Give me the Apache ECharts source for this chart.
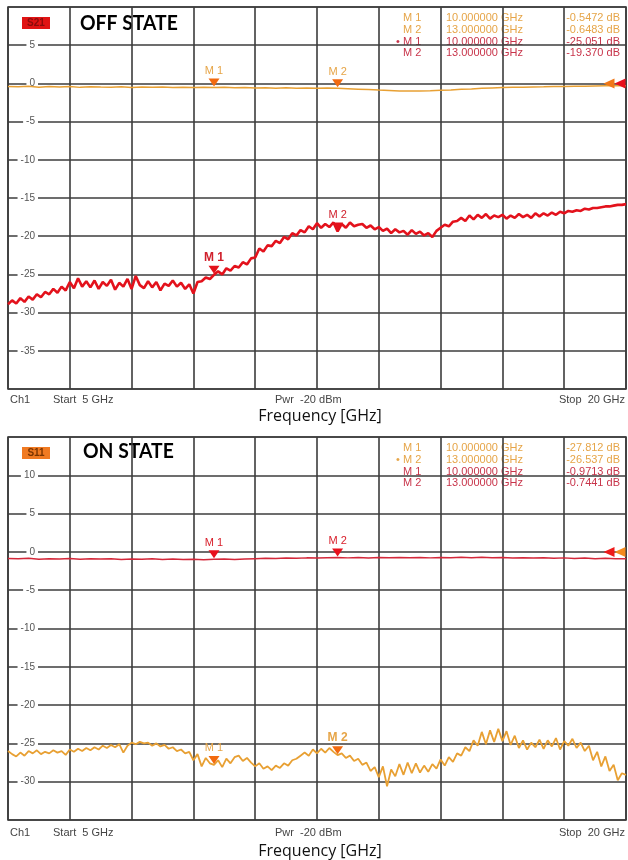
<!DOCTYPE html>
<html>
<head>
<meta charset="utf-8">
<script src="https://cdn.jsdelivr.net/npm/echarts@6/dist/echarts.min.js"></script>
<style>
  html, body { margin: 0; padding: 0; background: #fff; }
  #chart { width: 628px; height: 860px; }
</style>
</head>
<body>
<div id="chart"></div>
<script>
// Sweep definition (GHz)
const sweepStartGHz = 5;
const sweepStopGHz = 20;

// OFF state, S21 trace (151 points, 0.1 GHz step)
const offS21 = [
  -28.9,-28.4,-28.8,-28.1,-28.6,-27.9,-28.3,-27.6,-28.0,-27.3,
  -27.6,-26.9,-27.4,-26.6,-27.1,-26.0,-26.8,-25.5,-26.6,-25.9,
  -26.7,-25.8,-26.9,-26.0,-26.5,-25.7,-27.0,-26.1,-26.6,-25.6,
  -26.9,-25.2,-26.4,-26.8,-25.9,-26.7,-26.0,-27.1,-26.2,-26.5,
  -25.8,-26.6,-26.1,-26.9,-26.3,-27.5,-26.0,-25.9,-25.4,-25.6,
  -25.051,-24.6,-25.0,-24.2,-24.5,-23.9,-24.1,-23.4,-23.7,-22.9,
  -22.8,-21.6,-22.0,-21.2,-21.3,-20.6,-20.9,-20.1,-20.4,-19.6,
  -19.9,-19.2,-19.5,-18.7,-19.1,-18.3,-18.9,-18.4,-18.8,-18.2,
  -19.370,-18.4,-18.9,-18.2,-18.7,-18.5,-18.4,-18.9,-18.6,-19.1,
  -18.8,-19.3,-19.0,-19.6,-19.1,-19.5,-19.3,-19.8,-19.2,-19.7,
  -19.4,-19.9,-19.6,-20.1,-19.3,-18.9,-18.5,-18.7,-18.1,-18.0,
  -17.6,-18.0,-17.3,-17.8,-17.2,-17.6,-17.1,-17.7,-17.3,-17.5,
  -17.2,-17.7,-17.3,-17.6,-17.1,-17.5,-17.2,-17.6,-17.0,-17.4,
  -17.0,-17.3,-16.9,-17.2,-16.8,-17.0,-16.7,-16.8,-16.6,-16.7,
  -16.4,-16.5,-16.3,-16.3,-16.2,-16.1,-16.1,-16.0,-15.9,-15.9,
  -15.8
];

// OFF state, S11 trace (61 points, 0.25 GHz step)
const offS11 = [
  -0.40,-0.45,-0.38,-0.50,-0.42,-0.47,-0.40,-0.52,-0.45,-0.48,
  -0.50,-0.44,-0.55,-0.48,-0.52,-0.46,-0.55,-0.50,-0.53,-0.49,
  -0.5472,-0.52,-0.58,-0.55,-0.60,-0.56,-0.62,-0.58,-0.63,-0.60,
  -0.65,-0.61,-0.6483,-0.70,-0.75,-0.80,-0.88,-0.92,-0.98,-1.00,
  -0.98,-0.95,-0.90,-0.85,-0.78,-0.72,-0.65,-0.60,-0.55,-0.52,
  -0.50,-0.47,-0.45,-0.42,-0.40,-0.38,-0.36,-0.34,-0.32,-0.30,
  -0.30
];

// ON state, S11 trace (151 points, 0.1 GHz step)
const onS11 = [
  -26.0,-26.4,-26.7,-26.2,-26.6,-26.0,-26.3,-25.9,-26.4,-26.1,
  -26.3,-25.9,-26.2,-26.0,-26.5,-25.8,-26.1,-25.7,-26.0,-25.6,
  -25.9,-25.5,-25.8,-25.3,-25.6,-25.2,-25.5,-25.1,-26.2,-25.3,
  -24.9,-25.1,-24.8,-25.0,-24.9,-25.3,-25.0,-25.4,-25.2,-25.7,
  -25.5,-26.0,-25.8,-26.3,-26.1,-27.2,-26.4,-28.0,-26.9,-27.6,
  -27.812,-27.2,-28.1,-27.0,-27.6,-26.8,-26.6,-27.3,-26.9,-27.5,
  -28.0,-27.6,-28.3,-28.0,-28.5,-27.9,-28.2,-27.6,-27.9,-27.2,
  -27.0,-26.6,-26.2,-26.6,-25.8,-26.3,-25.7,-26.2,-25.6,-26.1,
  -26.537,-26.3,-26.9,-26.6,-27.3,-27.0,-27.8,-27.5,-28.6,-28.1,
  -29.4,-28.0,-30.6,-28.4,-29.3,-27.7,-29.1,-27.5,-28.9,-27.6,
  -28.8,-27.9,-28.7,-27.7,-28.3,-27.1,-27.9,-26.8,-27.4,-26.3,
  -26.6,-25.5,-26.0,-24.6,-25.3,-23.5,-25.1,-23.3,-24.8,-23.1,
  -24.7,-23.4,-25.2,-24.0,-25.6,-24.6,-25.8,-24.9,-25.5,-24.5,
  -25.7,-24.6,-25.4,-24.3,-25.8,-24.7,-25.3,-24.4,-25.6,-24.9,
  -26.0,-25.3,-27.2,-26.1,-28.0,-26.7,-28.6,-27.8,-29.8,-28.9,
  -29.1
];

// ON state, S21 trace (61 points, 0.25 GHz step)
const onS21 = [
  -0.85,-0.90,-0.82,-0.95,-0.88,-0.92,-0.86,-0.97,-0.90,-0.94,
  -0.88,-0.99,-0.92,-0.96,-0.90,-1.00,-0.93,-0.98,-0.95,-1.02,
  -0.9713,-0.94,-1.00,-0.92,-0.88,-0.84,-0.86,-0.80,-0.83,-0.78,
  -0.80,-0.76,-0.7441,-0.78,-0.74,-0.79,-0.73,-0.77,-0.72,-0.76,
  -0.74,-0.78,-0.72,-0.76,-0.70,-0.75,-0.71,-0.77,-0.73,-0.79,
  -0.75,-0.80,-0.76,-0.82,-0.78,-0.85,-0.80,-0.88,-0.84,-0.90,
  -0.88
];

// Marker readouts
const markerFreqs = [10, 13];
const offS11Markers = [-0.5472, -0.6483];
const offS21Markers = [-25.051, -19.370];
const onS11Markers = [-27.812, -26.537];
const onS21Markers = [-0.9713, -0.7441];

// Y tick range of each panel (dB)
const offScale = { min: -40, max: 10, step: 5 };
const onScale = { min: -35, max: 15, step: 5 };

const COL_S11 = '#e8a033';
const COL_S11_TXT = '#e6a548';
const COL_S21 = '#e3121c';
const COL_S21_TXT = '#c8344a';
const COL_MARK = '#f26a10';
const GRID_COL = '#3c3c3c';
const SANS = '"Liberation Sans", Arial, sans-serif';

function sweep(values) {
  const n = values.length;
  const step = (sweepStopGHz - sweepStartGHz) / (n - 1);
  return values.map((v, i) => [sweepStartGHz + i * step, v]);
}

function fmtDb(v) {
  return (Math.abs(v) < 1 ? v.toPrecision(4) : v.toPrecision(5)) + ' dB';
}

const PANEL_TOP = [7, 437];
const PANEL_H = [382, 383];

function dataXAxis(g) {
  return { gridIndex: g, type: 'value', min: sweepStartGHz, max: sweepStopGHz, show: false };
}
function divXAxis(g) {
  return {
    gridIndex: g, type: 'value', min: 0, max: 10, interval: 1,
    axisLine: { show: false }, axisTick: { show: false }, axisLabel: { show: false },
    splitLine: { show: true, lineStyle: { color: GRID_COL, width: 1.6 } }
  };
}
function yAx(g, sc) {
  return {
    gridIndex: g, type: 'value', min: sc.min, max: sc.max, interval: sc.step,
    axisLine: { show: false }, axisTick: { show: false },
    axisLabel: {
      inside: true, align: 'right', margin: 30, showMinLabel: false, showMaxLabel: false,
      color: '#555', fontSize: 10, fontFamily: SANS,
      backgroundColor: '#fff', padding: [0, 3]
    },
    splitLine: { show: true, lineStyle: { color: GRID_COL, width: 1.6 } }
  };
}

function markers(vals, color, labelColor, boldIdx, extra) {
  const data = markerFreqs.map((f, i) => ({
    name: 'M ' + (i + 1),
    coord: [f, vals[i]],
    label: {
      fontWeight: i === boldIdx ? 'bold' : 'normal',
      fontSize: i === boldIdx ? 12 : 11
    }
  }));
  if (extra) data.push(extra);
  return {
    symbol: 'triangle', symbolSize: [11, 8], symbolRotate: 180, symbolOffset: [0, -5],
    itemStyle: { color: color },
    label: {
      show: true, position: 'top', distance: 2, formatter: '{b}',
      color: labelColor, fontFamily: SANS
    },
    data: data
  };
}

// reference-level pointer at the right edge of a panel
function refArrow(color, dx) {
  return {
    name: '', coord: [sweepStopGHz, 0],
    symbol: 'triangle', symbolSize: [10, 11], symbolRotate: 90, symbolOffset: [dx, 0],
    itemStyle: { color: color }, label: { show: false }
  };
}

function lineSeries(name, xi, yi, values, color, width, mp, z) {
  return {
    name: name, type: 'line', xAxisIndex: xi, yAxisIndex: yi,
    data: sweep(values), showSymbol: false, smooth: false, animation: false,
    lineStyle: { color: color, width: width }, itemStyle: { color: color },
    markPoint: mp, z: z
  };
}

function table(top, rows) {
  const els = [];
  rows.forEach((r, i) => {
    const y = top + i * 11.8;
    const font = '11px ' + SANS;
    if (r.bullet) {
      els.push({ type: 'text', x: 396, y: y, style: { text: '\u2022', font: font, fill: r.color, textVerticalAlign: 'middle' } });
    }
    els.push({ type: 'text', x: 403, y: y, style: { text: r.name, font: font, fill: r.color, textVerticalAlign: 'middle' } });
    els.push({ type: 'text', x: 523, y: y, style: { text: r.freq.toFixed(6) + ' GHz', font: font, fill: r.color, textAlign: 'right', textVerticalAlign: 'middle' } });
    els.push({ type: 'text', x: 620, y: y, style: { text: fmtDb(r.val), font: font, fill: r.color, textAlign: 'right', textVerticalAlign: 'middle' } });
  });
  return els;
}

function footer(y) {
  const font = '11px ' + SANS;
  return [
    { type: 'text', x: 10, y: y, style: { text: 'Ch1', font: font, fill: '#444', textVerticalAlign: 'middle' } },
    { type: 'text', x: 53, y: y, style: { text: 'Start  5 GHz', font: font, fill: '#444', textVerticalAlign: 'middle' } },
    { type: 'text', x: 275, y: y, style: { text: 'Pwr  -20 dBm', font: font, fill: '#444', textVerticalAlign: 'middle' } },
    { type: 'text', x: 625, y: y, style: { text: 'Stop  20 GHz', font: font, fill: '#444', textAlign: 'right', textVerticalAlign: 'middle' } }
  ];
}

function axisTitle(y) {
  return { type: 'text', x: 320, y: y, style: { text: 'Frequency [GHz]', font: '16px "Open Sans", Lato, sans-serif', fill: '#111', textAlign: 'center', textVerticalAlign: 'middle' } };
}

function badge(y, text, bg, fg) {
  return [
    { type: 'rect', shape: { x: 22, y: y, width: 28, height: 12 }, style: { fill: bg } },
    { type: 'text', x: 36, y: y + 6, style: { text: text, font: 'bold 10px ' + SANS, fill: fg, textAlign: 'center', textVerticalAlign: 'middle' } }
  ];
}

function stateTitle(x, y, text) {
  return { type: 'text', x: x, y: y, scaleX: 0.92, style: { text: text, font: 'bold 21px Lato, "Open Sans", sans-serif', fill: '#000', textVerticalAlign: 'middle' } };
}

const chart = echarts.init(document.getElementById('chart'), null, { renderer: 'canvas' });

chart.setOption({
  animation: false,
  backgroundColor: '#fff',
  grid: [
    { left: 8, top: PANEL_TOP[0], width: 618, height: PANEL_H[0], show: true, borderColor: GRID_COL, borderWidth: 1.6, backgroundColor: '#fff' },
    { left: 8, top: PANEL_TOP[1], width: 618, height: PANEL_H[1], show: true, borderColor: GRID_COL, borderWidth: 1.6, backgroundColor: '#fff' }
  ],
  xAxis: [dataXAxis(0), divXAxis(0), dataXAxis(1), divXAxis(1)],
  yAxis: [yAx(0, offScale), yAx(1, onScale)],
  series: [
    lineSeries('S11', 0, 0, offS11, COL_S11, 1.5, markers(offS11Markers, COL_MARK, COL_S11_TXT, -1, refArrow('#f07818', -17)), 3),
    lineSeries('S21', 0, 0, offS21, COL_S21, 2.6, markers(offS21Markers, COL_S21, '#d0202c', 0, refArrow('#e8101c', -6)), 4),
    lineSeries('S21', 2, 1, onS21, '#d4283a', 1.5, markers(onS21Markers, '#e8101c', '#d8202c', -1, refArrow('#ee1a1a', -17)), 3),
    lineSeries('S11', 2, 1, onS11, COL_S11, 1.8, markers(onS11Markers, COL_MARK, COL_S11_TXT, 1, refArrow('#f58a1c', -6)), 4)
  ],
  graphic: [].concat(
    badge(17, 'S21', '#e01414', '#8a0c0c'),
    [stateTitle(80, 23, 'OFF STATE')],
    table(18, [
      { name: 'M 1', freq: markerFreqs[0], val: offS11Markers[0], color: COL_S11_TXT },
      { name: 'M 2', freq: markerFreqs[1], val: offS11Markers[1], color: COL_S11_TXT },
      { name: 'M 1', freq: markerFreqs[0], val: offS21Markers[0], color: COL_S21_TXT, bullet: true },
      { name: 'M 2', freq: markerFreqs[1], val: offS21Markers[1], color: COL_S21_TXT }
    ]),
    footer(400),
    [axisTitle(416)],
    badge(447, 'S11', '#f07a22', '#7a3400'),
    [stateTitle(83, 451, 'ON STATE')],
    table(448, [
      { name: 'M 1', freq: markerFreqs[0], val: onS11Markers[0], color: COL_S11_TXT },
      { name: 'M 2', freq: markerFreqs[1], val: onS11Markers[1], color: COL_S11_TXT, bullet: true },
      { name: 'M 1', freq: markerFreqs[0], val: onS21Markers[0], color: COL_S21_TXT },
      { name: 'M 2', freq: markerFreqs[1], val: onS21Markers[1], color: COL_S21_TXT }
    ]),
    footer(833),
    [axisTitle(851)]
  )
});
</script>
</body>
</html>
